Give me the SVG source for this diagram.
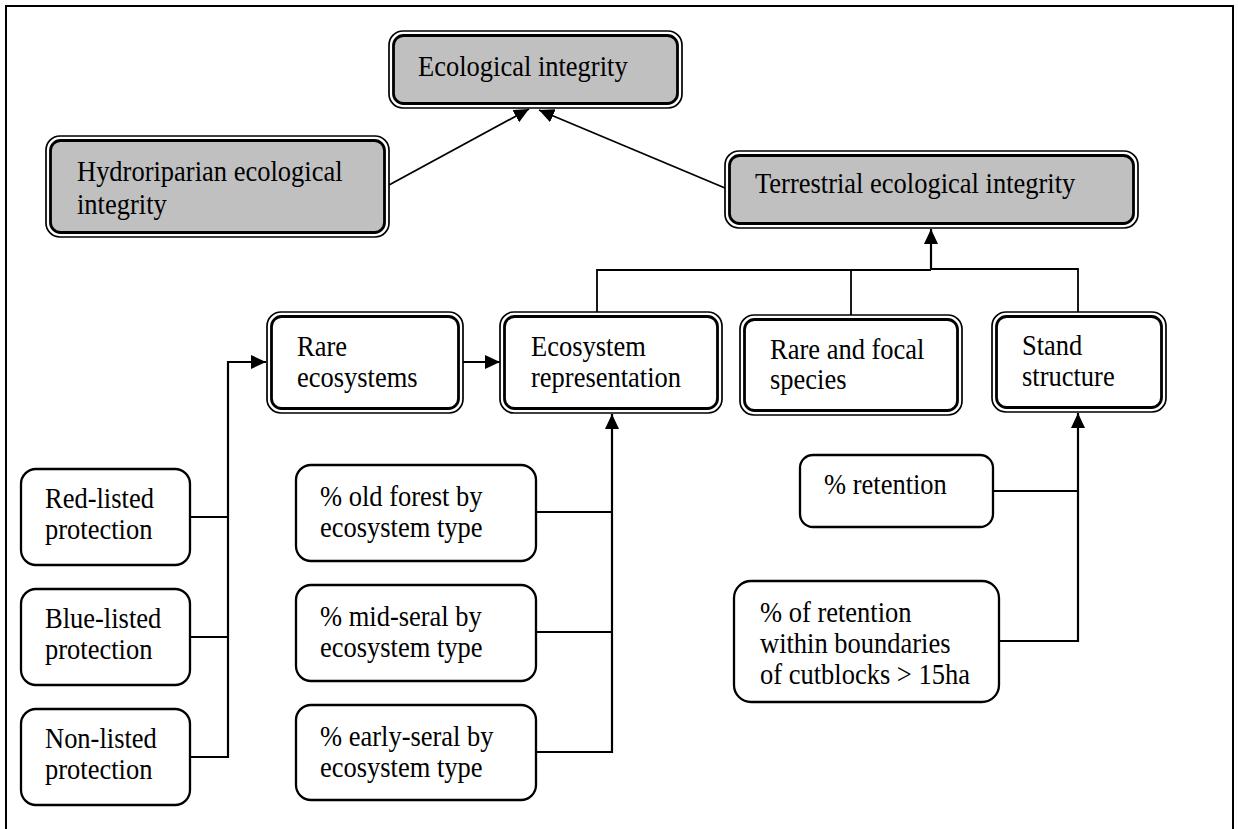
<svg xmlns="http://www.w3.org/2000/svg" width="1238" height="829" viewBox="0 0 1238 829">
<style>
  text { font-family: "Liberation Serif", "Times New Roman", serif; font-size: 26.5px; fill: #000; }
  .outer { fill: #fff; stroke: #000; stroke-width: 1.7; }
  .inner { fill: #fff; stroke: #000; stroke-width: 2.8; }
  .inner.gray { fill: #c0c0c0; }
  .single { fill: #fff; stroke: #000; stroke-width: 2.3; }
  .conn { fill: none; stroke: #000; stroke-width: 2.2; }
  .thin { fill: none; stroke: #000; stroke-width: 1.8; }
</style>
<defs>
  <marker id="arr" viewBox="0 0 15 14" refX="15" refY="7" markerWidth="15" markerHeight="14" markerUnits="userSpaceOnUse" orient="auto">
    <path d="M0,0 L15,7 L0,14 Z" fill="#000"/>
  </marker>
</defs>
<rect x="0" y="0" width="1238" height="829" fill="#fff"/>
<rect x="6" y="6" width="1227" height="900" fill="none" stroke="#000" stroke-width="2"/>

<g id="connectors">
  <line class="thin" x1="389" y1="185" x2="529" y2="109" marker-end="url(#arr)"/>
  <line class="thin" x1="725" y1="188" x2="539" y2="110" marker-end="url(#arr)"/>
  <polyline class="thin" points="597,312 597,270 931,270"/>
  <polyline class="thin" points="931,269 1078,269 1078,312"/>
  <line class="thin" x1="851" y1="270" x2="851" y2="315"/>
  <line class="conn" x1="931" y1="270" x2="931" y2="229" marker-end="url(#arr)"/>
  <line class="conn" x1="463" y1="362" x2="500" y2="362" marker-end="url(#arr)"/>
  <polyline class="conn" points="190,517 228,517"/>
  <polyline class="conn" points="190,637 228,637"/>
  <polyline class="conn" points="190,757 228,757 228,362 266,362" marker-end="url(#arr)"/>
  <polyline class="conn" points="536,512 612,512"/>
  <polyline class="conn" points="536,632 612,632"/>
  <polyline class="conn" points="536,752 612,752 612,414" marker-end="url(#arr)"/>
  <polyline class="conn" points="993,491 1078,491"/>
  <polyline class="conn" points="999,641 1078,641 1078,413" marker-end="url(#arr)"/>
</g>

<g id="ecological-integrity">
  <rect class="outer" x="389" y="31" width="293" height="77" rx="14"/>
  <rect class="inner gray" x="393.5" y="35.5" width="284" height="68" rx="10"/>
  <text transform="translate(418,76) scale(1,1.11)">Ecological integrity</text>
</g>

<g id="hydroriparian">
  <rect class="outer" x="46" y="136" width="343" height="101" rx="14"/>
  <rect class="inner gray" x="50.5" y="140.5" width="334" height="92" rx="10"/>
  <text transform="translate(77,181) scale(1,1.11)">Hydroriparian ecological</text>
  <text transform="translate(77,214) scale(1,1.11)">integrity</text>
</g>

<g id="terrestrial">
  <rect class="outer" x="725" y="151" width="413" height="77" rx="14"/>
  <rect class="inner gray" x="729.5" y="155.5" width="404" height="68" rx="10"/>
  <text transform="translate(755,193) scale(1,1.11)">Terrestrial ecological integrity</text>
</g>

<g id="rare-ecosystems">
  <rect class="outer" x="267" y="312" width="196" height="101" rx="14"/>
  <rect class="inner" x="271.5" y="316.5" width="187" height="92" rx="10"/>
  <text transform="translate(297,356) scale(1,1.11)">Rare</text>
  <text transform="translate(297,387) scale(1,1.11)">ecosystems</text>
</g>

<g id="ecosystem-representation">
  <rect class="outer" x="500" y="312" width="222" height="101" rx="14"/>
  <rect class="inner" x="504.5" y="316.5" width="213" height="92" rx="10"/>
  <text transform="translate(531,356) scale(1,1.11)">Ecosystem</text>
  <text transform="translate(531,387) scale(1,1.11)">representation</text>
</g>

<g id="rare-focal-species">
  <rect class="outer" x="740" y="315" width="222" height="100" rx="14"/>
  <rect class="inner" x="744.5" y="319.5" width="213" height="91" rx="10"/>
  <text transform="translate(770,359) scale(1,1.11)">Rare and focal</text>
  <text transform="translate(770,389) scale(1,1.11)">species</text>
</g>

<g id="stand-structure">
  <rect class="outer" x="992" y="312" width="174" height="100" rx="14"/>
  <rect class="inner" x="996.5" y="316.5" width="165" height="91" rx="10"/>
  <text transform="translate(1022,355) scale(1,1.11)">Stand</text>
  <text transform="translate(1022,386) scale(1,1.11)">structure</text>
</g>

<g id="red-listed">
  <rect class="single" x="21" y="469" width="169" height="96" rx="15"/>
  <text transform="translate(45,508) scale(1,1.11)">Red-listed</text>
  <text transform="translate(45,539) scale(1,1.11)">protection</text>
</g>

<g id="blue-listed">
  <rect class="single" x="21" y="589" width="169" height="96" rx="15"/>
  <text transform="translate(45,628) scale(1,1.11)">Blue-listed</text>
  <text transform="translate(45,659) scale(1,1.11)">protection</text>
</g>

<g id="non-listed">
  <rect class="single" x="21" y="709" width="169" height="96" rx="15"/>
  <text transform="translate(45,748) scale(1,1.11)">Non-listed</text>
  <text transform="translate(45,779) scale(1,1.11)">protection</text>
</g>

<g id="old-forest">
  <rect class="single" x="296" y="465" width="240" height="96" rx="15"/>
  <text transform="translate(320,506) scale(1,1.11)">% old forest by</text>
  <text transform="translate(320,537) scale(1,1.11)">ecosystem type</text>
</g>

<g id="mid-seral">
  <rect class="single" x="296" y="585" width="240" height="96" rx="15"/>
  <text transform="translate(320,626) scale(1,1.11)">% mid-seral by</text>
  <text transform="translate(320,657) scale(1,1.11)">ecosystem type</text>
</g>

<g id="early-seral">
  <rect class="single" x="296" y="705" width="240" height="95" rx="15"/>
  <text transform="translate(320,746) scale(1,1.11)">% early-seral by</text>
  <text transform="translate(320,777) scale(1,1.11)">ecosystem type</text>
</g>

<g id="retention">
  <rect class="single" x="800" y="455" width="193" height="72" rx="13"/>
  <text transform="translate(824,494) scale(1,1.11)">% retention</text>
</g>

<g id="retention-cutblocks">
  <rect class="single" x="734" y="581" width="265" height="121" rx="17"/>
  <text transform="translate(760,622) scale(1,1.11)">% of retention</text>
  <text transform="translate(760,653) scale(1,1.11)">within boundaries</text>
  <text transform="translate(760,684) scale(1,1.11)">of cutblocks &gt; 15ha</text>
</g>
</svg>
